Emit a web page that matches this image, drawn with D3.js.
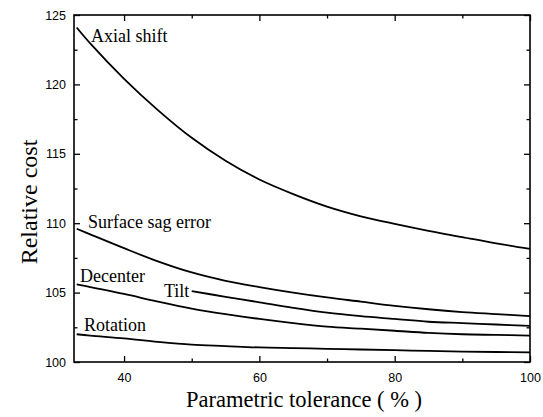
<!DOCTYPE html>
<html>
<head>
<meta charset="utf-8">
<script src="https://cdn.jsdelivr.net/npm/d3@7"></script>
<style>
  body { margin: 0; background: #fff; }
  .serif { font-family: "Liberation Serif", "Times New Roman", serif; }
</style>
</head>
<body>
<div id="chart"></div>
<script>
// data
var tol = [33, 35, 40, 45, 50, 55, 60, 65, 70, 75, 80, 85, 90, 95, 100];
var axialShift = [124.1, 122.95, 120.4, 118.15, 116.15, 114.5, 113.15, 112.1, 111.2, 110.5, 109.95, 109.45, 109.0, 108.55, 108.15];
var surfaceSag = [109.6, 109.2, 108.2, 107.25, 106.45, 105.85, 105.4, 105.0, 104.65, 104.35, 104.05, 103.8, 103.6, 103.45, 103.3];
var tiltTol = [50, 55, 60, 65, 70, 75, 80, 85, 90, 95, 100];
var tilt = [105.1, 104.7, 104.3, 103.9, 103.55, 103.3, 103.1, 102.9, 102.8, 102.7, 102.6];
var decenter = [105.6, 105.4, 104.9, 104.35, 103.85, 103.45, 103.1, 102.8, 102.55, 102.4, 102.25, 102.1, 102.0, 101.95, 101.9];
var rotation = [102.0, 101.9, 101.7, 101.45, 101.25, 101.15, 101.05, 101.0, 100.95, 100.9, 100.85, 100.8, 100.75, 100.72, 100.7];

var xMajor = [40, 60, 80, 100];
var xMinor = [50, 70, 90];
var yMajor = [100, 105, 110, 115, 120, 125];
var yMinor = [102.5, 107.5, 112.5, 117.5, 122.5];

var series = [
  {name: "Axial shift", x: tol, y: axialShift, lx: 91, ly: 42},
  {name: "Surface sag error", x: tol, y: surfaceSag, lx: 88, ly: 228},
  {name: "Decenter", x: tol, y: decenter, lx: 80, ly: 282},
  {name: "Tilt", x: tiltTol, y: tilt, lx: 164, ly: 297},
  {name: "Rotation", x: tol, y: rotation, lx: 84, ly: 331}
];

// set the dimensions and margins of the graph
var W = 543, H = 417;
var pLeft = 74, pRight = 530, pTop = 15, pBottom = 362;

var svg = d3.select("#chart")
  .append("svg")
  .attr("width", W)
  .attr("height", H);

var x = d3.scaleLinear().domain([32.6, 100]).range([pLeft, pRight]);
var y = d3.scaleLinear().domain([100, 125]).range([pBottom, pTop]);

// axes, ticks pointing inward
var tickSans = function(g) {
  g.selectAll("text")
    .style("font-family", "'Liberation Sans', Arial, sans-serif")
    .style("font-size", "12.5px")
    .attr("fill", "#000");
  g.selectAll("line").attr("stroke", "#000").attr("stroke-width", 1.3);
  g.select(".domain").remove();
};

svg.append("g")
  .attr("transform", "translate(0," + pBottom + ")")
  .call(d3.axisBottom(x).tickValues(xMajor).tickSize(-6).tickPadding(11).tickFormat(d3.format("d")))
  .call(tickSans);
svg.append("g")
  .attr("transform", "translate(0," + pBottom + ")")
  .call(d3.axisBottom(x).tickValues(xMinor).tickSize(-3.5).tickFormat(""))
  .call(tickSans);
svg.append("g")
  .attr("transform", "translate(0," + pTop + ")")
  .call(d3.axisTop(x).tickValues(xMajor).tickSize(-6).tickFormat(""))
  .call(tickSans);
svg.append("g")
  .attr("transform", "translate(0," + pTop + ")")
  .call(d3.axisTop(x).tickValues(xMinor).tickSize(-3.5).tickFormat(""))
  .call(tickSans);

svg.append("g")
  .attr("transform", "translate(" + pLeft + ",0)")
  .call(d3.axisLeft(y).tickValues(yMajor).tickSize(-6).tickPadding(8).tickFormat(d3.format("d")))
  .call(tickSans);
svg.append("g")
  .attr("transform", "translate(" + pLeft + ",0)")
  .call(d3.axisLeft(y).tickValues(yMinor).tickSize(-3.5).tickFormat(""))
  .call(tickSans);
svg.append("g")
  .attr("transform", "translate(" + pRight + ",0)")
  .call(d3.axisRight(y).tickValues(yMajor).tickSize(-6).tickFormat(""))
  .call(tickSans);
svg.append("g")
  .attr("transform", "translate(" + pRight + ",0)")
  .call(d3.axisRight(y).tickValues(yMinor).tickSize(-3.5).tickFormat(""))
  .call(tickSans);

// frame
svg.append("rect")
  .attr("x", pLeft).attr("y", pTop)
  .attr("width", pRight - pLeft).attr("height", pBottom - pTop)
  .attr("fill", "none")
  .attr("stroke", "#000")
  .attr("stroke-width", 1.6);

// curves
var line = d3.line()
  .x(function(d) { return x(d[0]); })
  .y(function(d) { return y(d[1]); })
  .curve(d3.curveCatmullRom.alpha(0.5));

series.forEach(function(s) {
  var pts = s.x.map(function(v, i) { return [v, s.y[i]]; });
  svg.append("path")
    .datum(pts)
    .attr("d", line)
    .attr("fill", "none")
    .attr("stroke", "#000")
    .attr("stroke-width", 1.8);
  svg.append("text")
    .attr("class", "serif")
    .attr("x", s.lx)
    .attr("y", s.ly)
    .style("font-size", "18px")
    .text(s.name);
});

// axis titles
svg.append("text")
  .attr("class", "serif")
  .attr("x", 304)
  .attr("y", 407)
  .attr("text-anchor", "middle")
  .style("font-size", "22.5px")
  .text("Parametric tolerance ( % )");

svg.append("text")
  .attr("class", "serif")
  .attr("transform", "translate(37,202) rotate(-90)")
  .attr("text-anchor", "middle")
  .style("font-size", "24px")
  .text("Relative cost");
</script>
</body>
</html>
